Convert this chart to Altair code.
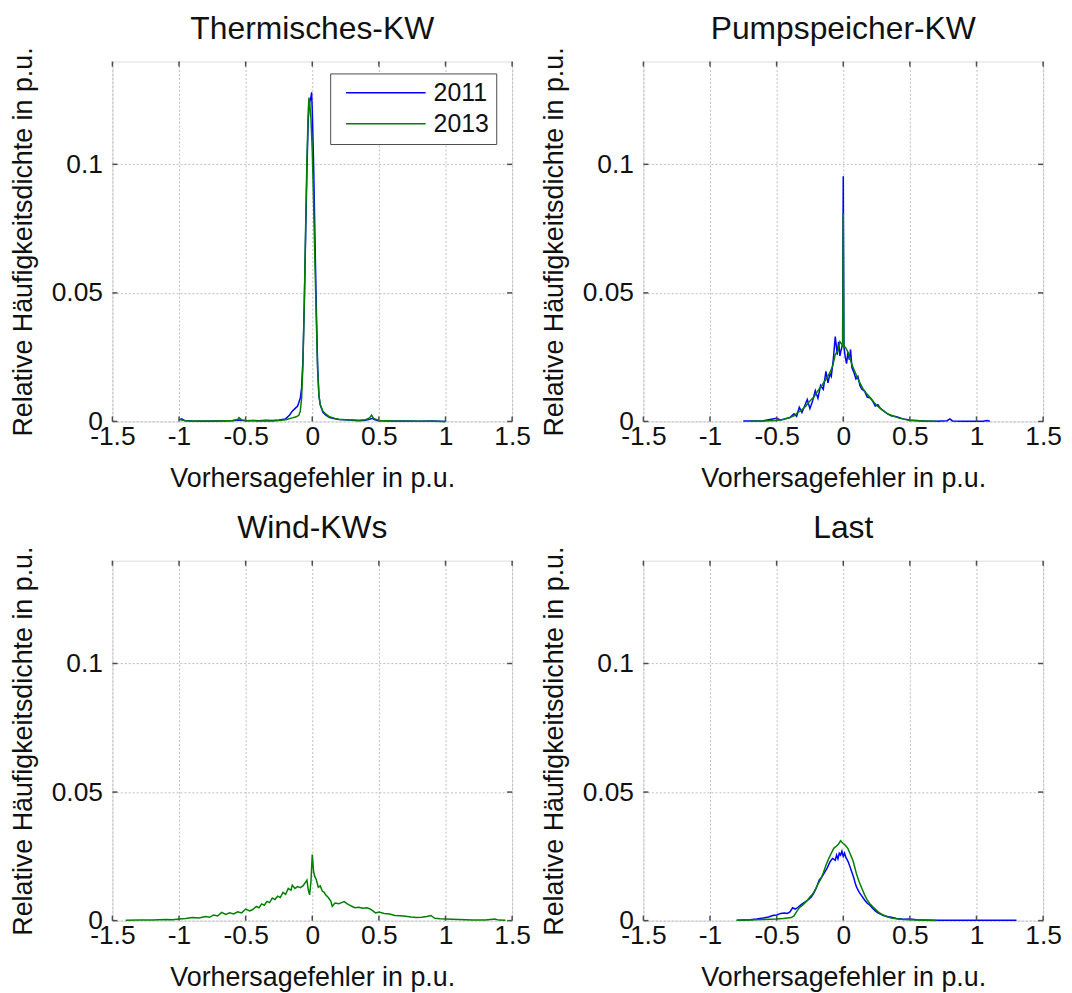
import altair as alt
import pandas as pd

FONT = "Liberation Sans"
W, H = 402, 362
X_TICKS = [-1.5, -1, -0.5, 0, 0.5, 1, 1.5]
Y_TICKS = [0, 0.05, 0.1]
YEARS = ["2011", "2013"]
COLORS = ["#0000ff", "#008000"]
TITLES = ["Thermisches-KW", "Pumpspeicher-KW", "Wind-KWs", "Last"]
X_TITLE = "Vorhersagefehler in p.u."
Y_TITLE = "Relative Häufigkeitsdichte in p.u."

# ---- Thermisches-KW ----
th11_x = [-1.0, -0.98, -0.96, -0.9, -0.8, -0.7, -0.6, -0.55, -0.5, -0.45,
          -0.4, -0.35, -0.3, -0.25, -0.2, -0.17, -0.15, -0.13, -0.11, -0.1,
          -0.09, -0.08, -0.07, -0.06, -0.05, -0.04, -0.03, -0.02, -0.01, -0.005,
          0.0, 0.01, 0.02, 0.03, 0.04, 0.05, 0.06, 0.08, 0.1, 0.13,
          0.17, 0.2, 0.25, 0.3, 0.35, 0.4, 0.43, 0.45, 0.47, 0.5,
          0.6, 0.7, 0.8, 0.9, 0.95, 1.0]
th11_y = [0.0005, 0.001, 0.0004, 0.0002, 0.0001, 0.0002, 0.0003, 0.0006, 0.0003, 0.0004,
          0.0003, 0.0005, 0.0004, 0.0006, 0.001, 0.0025, 0.004, 0.005, 0.006, 0.0075,
          0.009, 0.013, 0.024, 0.045, 0.072, 0.098, 0.118, 0.124, 0.126, 0.128,
          0.121, 0.100, 0.072, 0.045, 0.022, 0.010, 0.0065, 0.0035, 0.0025, 0.0015,
          0.001, 0.0008, 0.0007, 0.0005, 0.0003, 0.0005, 0.0008, 0.0012, 0.0006, 0.0003,
          0.0002, 0.0002, 0.0001, 0.0002, 0.0001, 0.0]
th13_x = [-1.0, -0.98, -0.95, -0.9, -0.8, -0.7, -0.6, -0.56, -0.55, -0.53,
          -0.5, -0.45, -0.4, -0.35, -0.3, -0.25, -0.2, -0.15, -0.12, -0.1,
          -0.09, -0.08, -0.07, -0.06, -0.05, -0.04, -0.03, -0.025, -0.02, -0.01,
          0.0, 0.01, 0.02, 0.03, 0.04, 0.05, 0.06, 0.08, 0.1, 0.13,
          0.17, 0.2, 0.25, 0.3, 0.35, 0.4, 0.43, 0.445, 0.46, 0.5,
          0.6, 0.7, 0.8, 0.9, 1.0]
th13_y = [0.001, 0.0006, 0.0003, 0.0002, 0.0002, 0.0002, 0.0004, 0.0008, 0.0015, 0.0006,
          0.0004, 0.0003, 0.0002, 0.0003, 0.0002, 0.0004, 0.0007, 0.0014, 0.0018, 0.0025,
          0.004, 0.009, 0.022, 0.046, 0.075, 0.102, 0.121, 0.126, 0.124, 0.118,
          0.105, 0.085, 0.062, 0.040, 0.020, 0.010, 0.0065, 0.004, 0.003, 0.0018,
          0.0012, 0.0009, 0.0007, 0.0006, 0.0005, 0.0007, 0.0014, 0.0025, 0.0012, 0.0004,
          0.0002, 0.0001, 0.0001, 0.0001, 0.0]

# ---- Pumpspeicher-KW ----
pu11_x = [-0.75, -0.6, -0.55, -0.5, -0.47, -0.44, -0.4, -0.37, -0.35, -0.33,
          -0.31, -0.29, -0.27, -0.25, -0.23, -0.21, -0.19, -0.17, -0.15, -0.13,
          -0.115, -0.1, -0.09, -0.075, -0.06, -0.045, -0.035, -0.025, -0.015, -0.005,
          0.0, 0.005, 0.015, 0.025, 0.035, 0.045, 0.055, 0.065, 0.08, 0.095,
          0.11, 0.125, 0.14, 0.16, 0.18, 0.2, 0.22, 0.24, 0.26, 0.28,
          0.3, 0.33, 0.36, 0.4, 0.45, 0.5, 0.55, 0.6, 0.7, 0.78,
          0.8, 0.82, 0.9, 1.05, 1.08, 1.1]
pu11_y = [0.0002, 0.0003, 0.0008, 0.0012, 0.0006, 0.0010, 0.0015, 0.0030, 0.0020, 0.0055,
          0.0035, 0.0060, 0.0085, 0.0050, 0.0080, 0.0120, 0.0090, 0.0140, 0.0125, 0.0195,
          0.0150, 0.0185, 0.0175, 0.0240, 0.0330, 0.0260, 0.0310, 0.0255, 0.0280, 0.0300,
          0.0954, 0.0290, 0.0250, 0.0225, 0.0270, 0.0240, 0.0280, 0.0210, 0.0190, 0.0165,
          0.0175, 0.0140, 0.0125, 0.0118, 0.0095, 0.0092, 0.0080, 0.0060, 0.0065, 0.0050,
          0.0042, 0.0030, 0.0022, 0.0018, 0.0010, 0.0006, 0.0004, 0.0002, 0.0001, 0.0003,
          0.0010, 0.0002, 0.0001, 0.0001, 0.0004, 0.0001]
pu13_x = [-0.7, -0.6, -0.5, -0.45, -0.4, -0.37, -0.34, -0.31, -0.28, -0.25,
          -0.22, -0.19, -0.16, -0.13, -0.1, -0.08, -0.06, -0.04, -0.025, -0.01,
          -0.004, 0.0, 0.004, 0.01, 0.02, 0.035, 0.05, 0.07, 0.09, 0.11,
          0.13, 0.15, 0.17, 0.19, 0.21, 0.23, 0.25, 0.28, 0.31, 0.34,
          0.38, 0.42, 0.46, 0.5, 0.6, 0.7]
pu13_y = [0.0001, 0.0002, 0.0004, 0.0008, 0.0015, 0.0022, 0.0035, 0.0045, 0.0060, 0.0080,
          0.0095, 0.0120, 0.0140, 0.0165, 0.0190, 0.0215, 0.0260, 0.0275, 0.0310, 0.0300,
          0.0290, 0.0810, 0.0300, 0.0290, 0.0285, 0.0270, 0.0245, 0.0215, 0.0190, 0.0165,
          0.0145, 0.0125, 0.0112, 0.0100, 0.0088, 0.0075, 0.0063, 0.0050, 0.0038, 0.0028,
          0.0020, 0.0013, 0.0008, 0.0004, 0.0002, 0.0001]

# ---- Wind-KWs (only the 2013 curve is visible) ----
wi13_x = [-1.4, -1.3, -1.2, -1.1, -1.05, -1.0, -0.95, -0.9, -0.85, -0.8,
          -0.77, -0.74, -0.71, -0.68, -0.65, -0.62, -0.59, -0.56, -0.53, -0.5,
          -0.47, -0.45, -0.42, -0.4, -0.38, -0.36, -0.34, -0.32, -0.3, -0.28,
          -0.26, -0.24, -0.22, -0.2, -0.18, -0.16, -0.15, -0.13, -0.11, -0.09,
          -0.07, -0.05, -0.04, -0.03, -0.02, -0.01, 0.0, 0.01, 0.02, 0.03,
          0.045, 0.06, 0.075, 0.09, 0.1, 0.12, 0.14, 0.15, 0.17, 0.2,
          0.22, 0.24, 0.26, 0.28, 0.3, 0.32, 0.35, 0.38, 0.41, 0.43,
          0.45, 0.475, 0.5, 0.54, 0.58, 0.62, 0.66, 0.7, 0.74, 0.78,
          0.82, 0.86, 0.89, 0.92, 0.96, 1.0, 1.05, 1.1, 1.2, 1.3,
          1.37, 1.4, 1.45]
wi13_y = [0.0001, 0.0002, 0.0002, 0.0004, 0.0003, 0.0006, 0.0008, 0.0012, 0.0010, 0.0016,
          0.0013, 0.0022, 0.0018, 0.0032, 0.0024, 0.0030, 0.0026, 0.0034, 0.0030, 0.0045,
          0.0038, 0.0042, 0.0055, 0.0050, 0.0065, 0.0060, 0.0075, 0.0070, 0.0088, 0.0082,
          0.0095, 0.0090, 0.0110, 0.0102, 0.0125, 0.0118, 0.0138, 0.0125, 0.0132, 0.0128,
          0.0135, 0.0150, 0.0158, 0.0120, 0.0100, 0.0150, 0.0257, 0.0190, 0.0170, 0.0160,
          0.0130, 0.0135, 0.0115, 0.0110, 0.0100, 0.0090, 0.0075, 0.0055, 0.0068, 0.0066,
          0.0070, 0.0074, 0.0066, 0.0060, 0.0055, 0.0050, 0.0052, 0.0048, 0.0050, 0.0046,
          0.0040, 0.0030, 0.0033, 0.0028, 0.0026, 0.0020, 0.0019, 0.0017, 0.0014, 0.0012,
          0.0013, 0.0016, 0.0020, 0.0009, 0.0007, 0.0006, 0.0005, 0.0004, 0.0002, 0.0002,
          0.0006, 0.0002, 0.0001]

# ---- Last ----
la11_x = [-0.8, -0.7, -0.65, -0.6, -0.56, -0.53, -0.5, -0.47, -0.44, -0.42,
          -0.4, -0.38, -0.36, -0.34, -0.32, -0.3, -0.28, -0.26, -0.24, -0.22,
          -0.2, -0.18, -0.16, -0.14, -0.12, -0.1, -0.08, -0.06, -0.05, -0.04,
          -0.03, -0.02, -0.01, 0.0, 0.01, 0.02, 0.03, 0.04, 0.05, 0.06,
          0.07, 0.08, 0.09, 0.1, 0.12, 0.14, 0.16, 0.18, 0.2, 0.22,
          0.24, 0.26, 0.28, 0.3, 0.33, 0.36, 0.4, 0.45, 0.5, 0.55,
          0.6, 0.7, 0.8, 1.0, 1.3]
la11_y = [0.0001, 0.0003, 0.0006, 0.0010, 0.0014, 0.0020, 0.0022, 0.0028, 0.0030, 0.0028,
          0.0034, 0.0050, 0.0045, 0.0052, 0.0060, 0.0068, 0.0075, 0.0082, 0.0092, 0.0108,
          0.0130, 0.0158, 0.0170, 0.0188, 0.0205, 0.0228, 0.0242, 0.0235, 0.0255, 0.0240,
          0.0262, 0.0255, 0.0270, 0.0250, 0.0262, 0.0245, 0.0236, 0.0225, 0.0210, 0.0195,
          0.0180, 0.0165, 0.0145, 0.0130, 0.0110, 0.0095, 0.0080, 0.0068, 0.0060, 0.0048,
          0.0038, 0.0030, 0.0025, 0.0020, 0.0016, 0.0013, 0.0008, 0.0005, 0.0006, 0.0003,
          0.0002, 0.0001, 0.0001, 0.0001, 0.0001]
la13_x = [-0.8, -0.7, -0.6, -0.5, -0.45, -0.42, -0.39, -0.37, -0.35, -0.33,
          -0.31, -0.29, -0.27, -0.25, -0.23, -0.21, -0.19, -0.17, -0.15, -0.13,
          -0.11, -0.09, -0.07, -0.05, -0.035, -0.02, -0.01, 0.0, 0.01, 0.02,
          0.035, 0.05, 0.06, 0.075, 0.09, 0.1, 0.12, 0.14, 0.16, 0.18,
          0.2, 0.22, 0.24, 0.26, 0.28, 0.3, 0.33, 0.36, 0.4, 0.45,
          0.5, 0.6, 0.7]
la13_y = [0.0001, 0.0002, 0.0004, 0.0006, 0.0008, 0.0010, 0.0012, 0.0018, 0.0035, 0.0050,
          0.0058, 0.0068, 0.0078, 0.0092, 0.0103, 0.0120, 0.0142, 0.0160, 0.0185, 0.0215,
          0.0240, 0.0262, 0.0282, 0.0290, 0.0298, 0.0311, 0.0305, 0.0300, 0.0296, 0.0290,
          0.0280, 0.0262, 0.0250, 0.0230, 0.0200, 0.0180, 0.0150, 0.0125, 0.0100, 0.0080,
          0.0066, 0.0055, 0.0045, 0.0035, 0.0027, 0.0022, 0.0015, 0.0010, 0.0007, 0.0004,
          0.0003, 0.0001, 0.0]

FRAME = "#4d4d4d"
x_scale = alt.Scale(domain=[-1.5, 1.5], nice=False, zero=False)
y_scale = alt.Scale(domain=[0, 0.14], nice=False, zero=False)

x_axis = alt.Axis(values=X_TICKS, labelExpr="'' + datum.value", grid=True,
                  gridDash=[2, 2], gridColor="#bdbdbd", gridWidth=1,
                  ticks=False, domain=False, labelPadding=2,
                  labelFontSize=26.5, labelFont=FONT, labelColor="#111",
                  labelFlush=False, titleFontSize=27, titleFont=FONT,
                  titleFontWeight="normal", titleColor="#111",
                  titleX=W / 2, titleY=65, titleBaseline="alphabetic")
y_axis = alt.Axis(values=Y_TICKS, labelExpr="'' + datum.value", grid=True,
                  gridDash=[2, 2], gridColor="#bdbdbd", gridWidth=1,
                  ticks=False, domain=False, labelPadding=10,
                  labelFontSize=26.5, labelFont=FONT, labelColor="#111",
                  labelFlush=False, titleFontSize=27, titleFont=FONT,
                  titleFontWeight="normal", titleColor="#111",
                  titleX=-81, titleY=H / 2, titleAngle=270,
                  titleBaseline="alphabetic", titleAlign="center")


def series_df(pairs):
    rows = []
    for year, xs, ys in pairs:
        assert len(xs) == len(ys), year
        rows += [{"x": a, "y": b, "year": year} for a, b in zip(xs, ys)]
    return pd.DataFrame(rows)


def panel(title, pairs, show_legend):
    df = series_df(pairs)
    if show_legend:
        legend = alt.Legend(title=None, orient="none", legendX=219, legendY=12,
                            symbolType="M-4,0L4,0", symbolSize=400,
                            symbolStrokeWidth=1.5, symbolOffset=36.5,
                            labelOffset=35.5, labelFontSize=25, labelFont=FONT,
                            labelColor="#111", labelExpr="datum.label + ' '",
                            padding=7, rowPadding=5,
                            strokeColor=FRAME, fillColor="white",
                            cornerRadius=0)
    else:
        legend = None
    X = lambda f: alt.X(f, scale=x_scale, axis=x_axis, title=X_TITLE)
    Y = lambda f: alt.Y(f, scale=y_scale, axis=y_axis, title=Y_TITLE)
    lines = alt.Chart(df).mark_line(strokeWidth=1.5).encode(
        x=X("x:Q"), y=Y("y:Q"),
        color=alt.Color("year:N", scale=alt.Scale(domain=YEARS, range=COLORS),
                        legend=legend),
        detail="year:N",
    )
    xt = pd.DataFrame({"t": X_TICKS})
    yt = pd.DataFrame({"t": Y_TICKS})
    tick_style = dict(color=FRAME, strokeWidth=1.5)
    bottom = alt.Chart(xt).mark_rule(**tick_style).encode(
        x=X("t:Q"), y=alt.value(H), y2=alt.value(H - 5))
    top = alt.Chart(xt).mark_rule(**tick_style).encode(
        x=X("t:Q"), y=alt.value(0), y2=alt.value(5))
    left = alt.Chart(yt).mark_rule(**tick_style).encode(
        y=Y("t:Q"), x=alt.value(0), x2=alt.value(5))
    right = alt.Chart(yt).mark_rule(**tick_style).encode(
        y=Y("t:Q"), x=alt.value(W - 5), x2=alt.value(W))
    return alt.layer(lines, bottom, top, left, right).properties(
        width=W, height=H,
        title=alt.TitleParams(text=title, fontSize=32, font=FONT, fontWeight="normal",
                              color="#111", frame="group", anchor="middle",
                              baseline="alphabetic", offset=-24.3),
    )


p1 = panel(TITLES[0], [("2011", th11_x, th11_y), ("2013", th13_x, th13_y)], True)
p2 = panel(TITLES[1], [("2011", pu11_x, pu11_y), ("2013", pu13_x, pu13_y)], False)
p3 = panel(TITLES[2], [("2013", wi13_x, wi13_y)], False)
p4 = panel(TITLES[3], [("2011", la11_x, la11_y), ("2013", la13_x, la13_y)], False)

chart = alt.ConcatChart(
    concat=[p1, p2, p3, p4], columns=2,
    spacing=alt.RowColnumber(row=140, column=132), bounds="flush",
    padding={"left": 1, "top": 1, "right": 2, "bottom": 0},
).resolve_scale(color="independent").resolve_legend(color="independent").configure_view(
    stroke=FRAME, strokeWidth=1.5
).configure_legend(strokeWidth=1.5).configure(background="white")

chart.save("out.html", embed_options={"renderer": "svg", "actions": False})
